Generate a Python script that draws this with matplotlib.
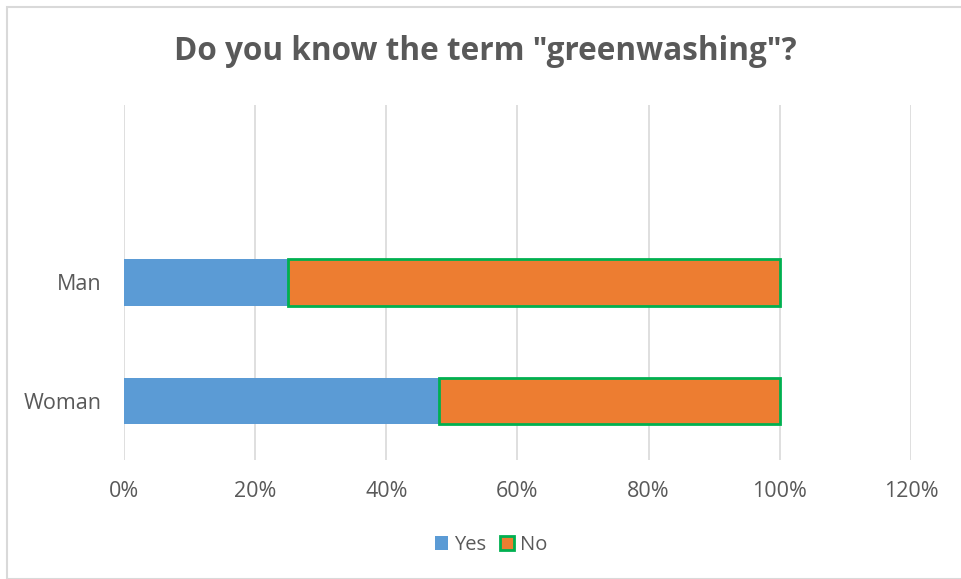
import matplotlib.pyplot as plt
from matplotlib.patches import Rectangle

# データ
categories = ["Woman", "Man"]
yes_values = [0.48, 0.25]
no_values = [0.52, 0.75]
x_ticks = [0, 0.2, 0.4, 0.6, 0.8, 1.0, 1.2]
x_labels = ["0%", "20%", "40%", "60%", "80%", "100%", "120%"]

plt.rcParams["font.family"] = ["Open Sans", "DejaVu Sans"]
text_color = "#595959"

fig = plt.figure(figsize=(9.62, 5.79), dpi=100)
# 外枠
fig.patches.append(Rectangle((7 / 962, 0), 1, 1 - 7 / 579, transform=fig.transFigure,
                             fill=False, edgecolor="#d9d9d9", lw=1.5))

ax = fig.add_axes([124 / 962, (579 - 460) / 579, (911 - 124) / 962, (460 - 105) / 579])
pos = [0, 1]
ax.barh(pos, yes_values, height=0.39, color="#5b9bd5", label="Yes")
ax.barh(pos, no_values, left=yes_values, height=0.39, color="#ed7d31",
        edgecolor="#00b050", linewidth=2, label="No")

ax.set_xlim(0, 1.2)
ax.set_ylim(-0.5, 2.5)
ax.set_xticks(x_ticks)
ax.set_xticklabels(x_labels)
ax.set_yticks(pos)
ax.set_yticklabels(categories)
ax.tick_params(length=0, labelsize=15.5, labelcolor=text_color)
ax.tick_params(axis="y", pad=16)
ax.tick_params(axis="x", pad=15)
ax.grid(axis="x", color="#d9d9d9", lw=1.2)
ax.set_axisbelow(True)
for s in ax.spines.values():
    s.set_visible(False)

fig.text(0.505, 1 - 52 / 579, 'Do you know the term "greenwashing"?', ha="center", va="center",
         fontsize=22.7, fontweight="bold", color=text_color)

fig.legend(loc="center", bbox_to_anchor=(491 / 962, 1 - 545 / 579), ncol=2, frameon=False,
           fontsize=14.5, labelcolor=text_color, handlelength=0.65, handleheight=0.65,
           handletextpad=0.3, columnspacing=0.7)

plt.savefig("out.png", dpi=100)
